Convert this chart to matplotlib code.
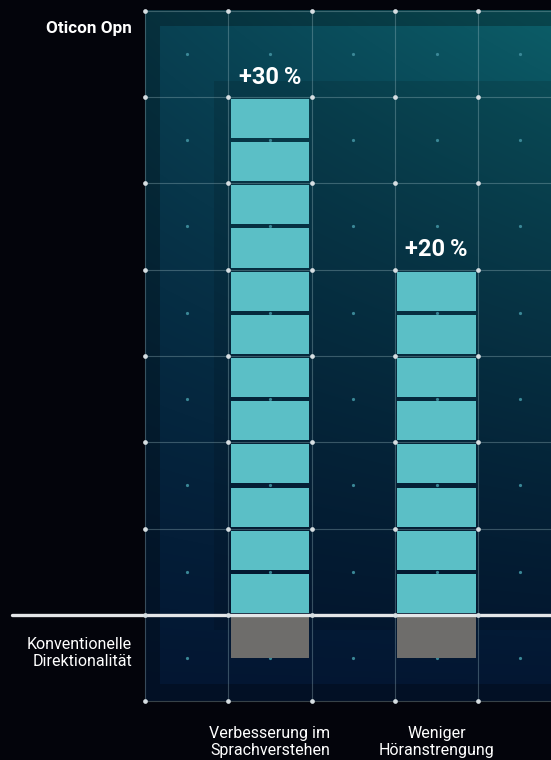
import numpy as np
import matplotlib
matplotlib.use("Agg")
import matplotlib.pyplot as plt

# ---------------- data ----------------
categories = ["Verbesserung im\nSprachverstehen", "Weniger\nHöranstrengung"]
opn_values = [30, 20]            # % improvement, Oticon Opn
conv_values = [-2.5, -2.5]       # reference block (conventional directionality)
value_labels = ["+30\u2009%", "+20\u2009%"]
series_opn = "Oticon Opn"
series_conv = "Konventionelle\nDirektionalität"
segment = 2.5                    # one block = 2.5 %

# ---------------- style ----------------
plt.rcParams["font.family"] = ["Roboto", "DejaVu Sans"]
FIG_BG = "#03040b"
BAR_C = "#5bbfc6"
GRAY = "#6e6d6b"
W, H = 551, 760
px_x = 83.33    # px per x unit
px_y = 17.27    # px per %
x_org, y_org = 145, 615

fig = plt.figure(figsize=(W / 100, H / 100), dpi=100, facecolor=FIG_BG)
ax = fig.add_axes([0, 0, 1, 1])
x0, x1 = (0 - x_org) / px_x, (W - x_org) / px_x
y0, y1 = (y_org - H) / px_y, (y_org - 0) / px_y
ax.set_xlim(x0, x1)
ax.set_ylim(y0, y1)
ax.axis("off")
ax.set_facecolor(FIG_BG)

# ---------------- background gradient panel ----------------
gx0, gx1, gy0, gy1 = 0, x1, -5, 35
nx = int(round((gx1 - gx0) * px_x))
ny = int(round((gy1 - gy0) * px_y))
xs = np.linspace(gx0, gx1, nx)
ys = np.linspace(gy1, gy0, ny)
XX, YY = np.meshgrid(xs, ys)
xn = (XX - gx0) / (gx1 - gx0)
yn = (gy1 - YY) / (gy1 - gy0)
t = np.clip(1 - yn, 0, 1) ** 1.2 * (0.6 + 0.4 * xn)
navy = np.array([0x03, 0x16, 0x32]) / 255
teal = np.array([0x0c, 0x5e, 0x68]) / 255
img = navy[None, None, :] * (1 - t[..., None]) + teal[None, None, :] * t[..., None]
fac = np.full(XX.shape, 0.74)
inner = (XX > 0.18) & (YY < 34.1) & (YY > -4.05)
fac[inner] = 1.0
darker = (XX > 0.82) & (YY < 30.9) & (YY > -0.9)
fac[darker] = 0.88
img = img * fac[..., None]
ax.imshow(img, extent=[gx0, gx1, gy0, gy1], aspect="auto", zorder=0,
          interpolation="bilinear")

# ---------------- grid ----------------
xg = np.arange(0, 6)
yg = np.arange(-5, 36, 5)
for xv in xg:
    ax.plot([xv, xv], [yg[0], yg[-1]], color="#a8c6cc", alpha=0.32, lw=0.8, zorder=1)
for yv in yg:
    if yv == 0:
        continue
    ax.plot([0, x1], [yv, yv], color="#a8c6cc", alpha=0.32, lw=0.8, zorder=1)
# small centre dots
cx, cy = np.meshgrid(xg[:-1] + 0.5, yg[:-1] + 2.5)
ax.plot(cx.ravel(), cy.ravel(), "o", ms=2.3, color="#3a8796", mec="none", zorder=1.5)

# ---------------- bars ----------------
xpos = [1.5 + 2 * i for i in range(len(categories))]
bw = 0.94
gap = 0.12
for xp, v in zip(xpos, opn_values):
    n = int(round(v / segment))
    bottoms = np.arange(n) * segment
    ax.bar([xp] * n, [segment - 2 * gap] * n, bottom=bottoms + gap, width=bw,
           color=BAR_C, edgecolor="none", zorder=3)
for xp, v in zip(xpos, conv_values):
    ax.bar(xp, v, bottom=0, width=bw, color=GRAY, edgecolor="none", zorder=3)

# intersection dots
gx, gy = np.meshgrid(xg, yg)
ax.plot(gx.ravel(), gy.ravel(), "o", ms=3.4, color="#d6dee2", mec="none", zorder=5)

# baseline
ax.plot([(12 - x_org) / px_x, x1], [0, 0], color="#e4e6e8", lw=2.4, zorder=4,
        solid_capstyle="round")

# ---------------- text ----------------
for xp, v, lab in zip(xpos, opn_values, value_labels):
    ax.text(xp, v + 1.15, lab, ha="center", va="center", color="white",
            fontsize=17, fontweight="bold", zorder=6)

lx = (132 - x_org) / px_x
ax.text(lx, (y_org - 29) / px_y, series_opn, ha="right", va="center",
        color="white", fontsize=12.3, fontweight="bold")
ax.text(lx, (y_org - 653) / px_y, series_conv, ha="right", va="center",
        color="white", fontsize=11.5, fontweight="normal", linespacing=1.2)
for xp, c in zip(xpos, categories):
    ax.text(xp, (y_org - 742) / px_y, c, ha="center", va="center",
            color="white", fontsize=11.5, fontweight="normal", linespacing=1.2)

fig.savefig("out.png", dpi=100, facecolor=FIG_BG)
